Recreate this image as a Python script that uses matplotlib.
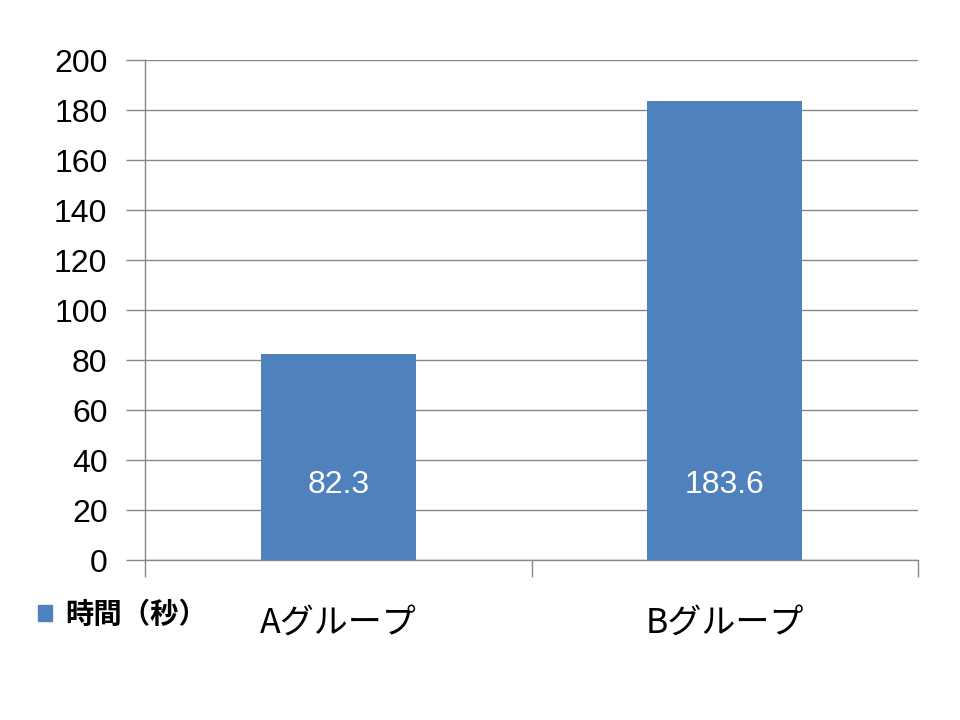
import matplotlib
matplotlib.use("Agg")
import matplotlib.pyplot as plt
from matplotlib.patches import Patch

plt.rcParams['font.family'] = ['Noto Sans CJK JP', 'DejaVu Sans']

groups = ["Aグループ", "Bグループ"]
times = [82.3, 183.6]
series_name = "時間（秒）"
yticks = [0, 20, 40, 60, 80, 100, 120, 140, 160, 180, 200]

bar_color = "#4F81BD"
grid_color = "#868686"
num_font = ['Liberation Sans', 'DejaVu Sans']

fig = plt.figure(figsize=(9.6, 7.2), dpi=100)
ax = fig.add_axes([145/960, 1 - 560/720, (918-145)/960, 500/720])

x = list(range(len(groups)))
bars = ax.bar(x, times, width=0.4, color=bar_color, zorder=3)

# value labels sit low inside each bar
for xi, v in zip(x, times):
    ax.text(xi, 30, f"{v}", ha="center", va="center", color="white",
            fontsize=23, family=num_font, zorder=4)

ax.set_xlim(-0.5, len(groups) - 0.5)
ax.set_ylim(0, 200)
ax.set_yticks(yticks)
ax.set_yticklabels([str(t) for t in yticks], fontsize=23, family=num_font)
ax.yaxis.grid(True, color=grid_color, linewidth=1)
ax.set_axisbelow(True)

ax.set_xticks(x)
ax.set_xticklabels(groups, fontsize=24.5)
ax.tick_params(axis="x", which="major", length=0, pad=33)
ax.set_xticks([-0.5, 0.5, 1.5], minor=True)
ax.tick_params(axis="x", which="minor", length=12, color=grid_color, width=1)
ax.tick_params(axis="y", length=14, color=grid_color, width=1, pad=13)

for s in ["top", "right"]:
    ax.spines[s].set_visible(False)
for s in ["left", "bottom"]:
    ax.spines[s].set_color(grid_color)
    ax.spines[s].set_linewidth(1)

handle = Patch(facecolor=bar_color, edgecolor=bar_color)
fig.legend([handle], [series_name], loc="center left",
           bbox_to_anchor=(38/960, 1 - 615/720), frameon=False,
           borderpad=0, borderaxespad=0,
           handlelength=0.5, handleheight=0.5, handletextpad=0.45,
           prop={'family': ['Noto Sans CJK JP'], 'weight': 'bold', 'size': 20.4})

plt.savefig("out.png", dpi=100)
